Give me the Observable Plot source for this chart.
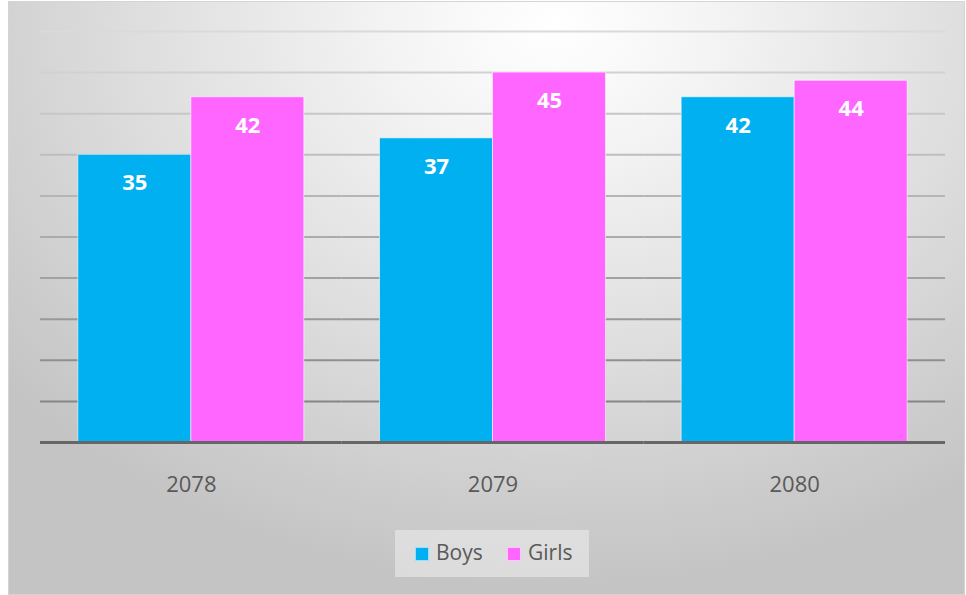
<!DOCTYPE html>
<html>
<head>
<meta charset="utf-8">
<script src="https://cdn.jsdelivr.net/npm/d3@7"></script>
<script src="https://cdn.jsdelivr.net/npm/@observablehq/plot@0.6"></script>
<style>
  html, body { margin: 0; padding: 0; background: #ffffff; }
  #wrap { position: relative; width: 966px; height: 595px; overflow: hidden; font-family: "Open Sans", sans-serif; }
  #bg { position: absolute; left: 8px; top: 1px; width: 955px; height: 592px; border: 1px solid #d4d4d4;
        background: radial-gradient(ellipse 75% 95% at 57% 4%, #ffffff 0%, #f4f4f4 22%, #e0e0e0 55%, #cdcdcd 85%, #c4c4c4 100%); }
  #chart { position: absolute; left: 0; top: 0; }
  #legend { position: absolute; left: 395px; top: 530px; width: 194px; height: 47px; background: rgba(238,238,238,0.55); }
  .sw { position: absolute; width: 12px; height: 12px; border: 1px solid rgba(255,255,255,0.6); }
  .lt { position: absolute; font-size: 21px; line-height: 21px; color: #595959; white-space: nowrap; }
</style>
</head>
<body>
<div id="wrap">
  <div id="bg"></div>
  <div id="chart"></div>
  <div id="legend"></div>
</div>
<script>
const years = ["2078", "2079", "2080"];
const series = ["Boys", "Girls"];
const boys = [35, 37, 42];
const girls = [42, 45, 44];
const yTicks = [5, 10, 15, 20, 25, 30, 35, 40, 45, 50];
const colors = ["#00b0f0", "#ff66ff"];

const table = [];
years.forEach((yr, i) => {
  table.push({year: yr, sex: series[0], value: boys[i]});
  table.push({year: yr, sex: series[1], value: girls[i]});
});

const gridColor = d3.scaleLinear().domain([5, 50]).range(["#868686", "#dadada"]).interpolate(d3.interpolateRgb);

const chart = Plot.plot({
  width: 966,
  height: 525,
  marginLeft: 40,
  marginRight: 21,
  marginTop: 31,
  marginBottom: 83,
  style: {background: "transparent", fontFamily: "Open Sans, sans-serif"},
  fx: {domain: years, padding: 0, round: false, label: null},
  x: {domain: series, paddingInner: 0, paddingOuter: 0.335, round: false, axis: null},
  y: {domain: [0, 50], axis: null},
  color: {domain: series, range: colors},
  marks: [
    Plot.ruleY(yTicks, {stroke: d => gridColor(d), strokeWidth: 2}),
    Plot.barY(table, {fx: "year", x: "sex", y: "value", fill: "sex", stroke: "white", strokeOpacity: 0.55, strokeWidth: 1}),
    Plot.text(table, {fx: "year", x: "sex", y: "value", text: d => String(d.value), dy: 28.5, fill: "white", fontWeight: "bold", fontSize: 22}),
    Plot.ruleY([0], {stroke: "#666666", strokeWidth: 3}),
    Plot.axisFx({anchor: "bottom", tickSize: 0, tickPadding: 34, fontSize: 22, fill: "#595959", label: null})
  ]
});
document.getElementById("chart").appendChild(chart);

// legend (HTML, below the SVG area)
const legend = document.getElementById("legend");
const swX = [20, 112];
const txX = [41, 133];
series.forEach((s, i) => {
  const sw = document.createElement("div");
  sw.className = "sw";
  sw.style.left = swX[i] + "px";
  sw.style.top = "17px";
  sw.style.background = colors[i];
  legend.appendChild(sw);
  const t = document.createElement("div");
  t.className = "lt";
  t.style.left = txX[i] + "px";
  t.style.top = "11.5px";
  t.textContent = s;
  legend.appendChild(t);
});
</script>
</body>
</html>
